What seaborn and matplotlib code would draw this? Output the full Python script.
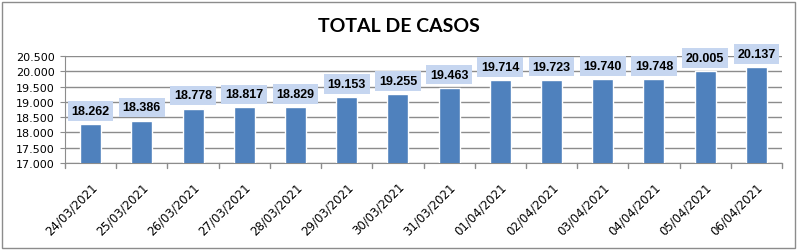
import matplotlib
matplotlib.use("Agg")
from matplotlib import pyplot as plt
from matplotlib.patches import Rectangle
import seaborn as sns
import pandas as pd

# data
dates = ["24/03/2021", "25/03/2021", "26/03/2021", "27/03/2021", "28/03/2021",
         "29/03/2021", "30/03/2021", "31/03/2021", "01/04/2021", "02/04/2021",
         "03/04/2021", "04/04/2021", "05/04/2021", "06/04/2021"]
casos = [18262, 18386, 18778, 18817, 18829, 19153, 19255, 19463,
         19714, 19723, 19740, 19748, 20005, 20137]
yticks = [17000, 17500, 18000, 18500, 19000, 19500, 20000, 20500]


def fmt(v):
    return f"{v:,}".replace(",", ".")


df = pd.DataFrame({"data": dates, "casos": casos})

sns.set_style("white")
plt.rcParams['font.family'] = ['DejaVu Sans']
plt.rcParams['text.color'] = 'black'
plt.rcParams['xtick.color'] = 'black'
plt.rcParams['ytick.color'] = 'black'

fig = plt.figure(figsize=(7.98, 2.51), dpi=100)
ax = fig.add_axes([65 / 798, 1 - 164 / 251, (782 - 65) / 798, (164 - 57) / 251])

sns.barplot(data=df, x="data", y="casos", color="#4f81bd", width=0.41,
            saturation=1, ax=ax, zorder=3)

ax.set_ylim(17000, 20500)
ax.set_xlim(-0.5, len(dates) - 0.5)
ax.set_yticks(yticks)
ax.set_yticklabels([fmt(v) for v in yticks], fontsize=8)
ax.yaxis.grid(True, color="#8c8c8c", linewidth=1, zorder=0)
ax.set_xticks(range(len(dates)))
ax.set_xticklabels(dates, rotation=45, ha="right", rotation_mode="anchor", fontsize=8.5)
ax.tick_params(axis="x", length=0, pad=12)
ax.tick_params(axis="y", length=3.6, color="#8c8c8c", pad=4, left=True)
# boundary ticks on the x axis
for b in range(len(dates) + 1):
    ax.plot([b - 0.5, b - 0.5], [0, -0.045], transform=ax.get_xaxis_transform(),
            color="#8c8c8c", lw=1, clip_on=False)
ax.set_xlabel("")
ax.set_ylabel("")
for s in ["top", "right"]:
    ax.spines[s].set_visible(False)
for s in ["left", "bottom"]:
    ax.spines[s].set_color("#8c8c8c")

# data labels
for i, v in enumerate(casos):
    ax.annotate(fmt(v), (i, v), xytext=(0, 9.5), textcoords="offset points",
                ha="center", va="center", fontsize=9, fontweight="bold", zorder=5,
                family=["Liberation Sans", "DejaVu Sans"],
                bbox=dict(boxstyle="square,pad=0.3", fc="#c6d6f0", ec="none"))

fig.text(0.5, 1 - 27 / 251, "TOTAL DE CASOS", ha="center", va="center",
         fontsize=14, fontweight="bold", family=["Lato", "DejaVu Sans"])

fig.patches.append(Rectangle((2 / 798, 2 / 251), 793 / 798, 246 / 251,
                             transform=fig.transFigure, fill=False,
                             ec="#8c8c8c", lw=1))

fig.savefig("out.png", dpi=100)
